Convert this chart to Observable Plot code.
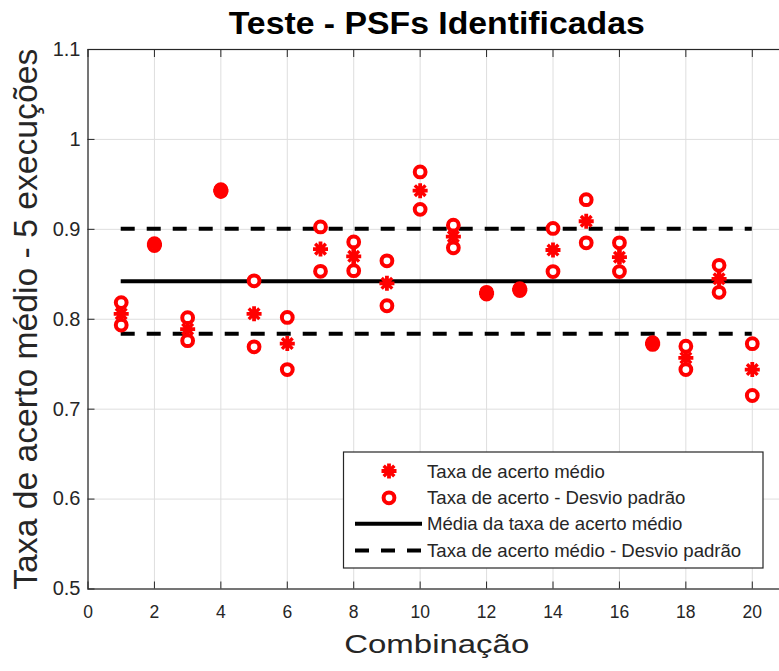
<!DOCTYPE html>
<html><head><meta charset="utf-8">
<script src="https://cdn.jsdelivr.net/npm/d3@7"></script>
<script src="https://cdn.jsdelivr.net/npm/@observablehq/plot@0.6"></script>
<style>
body{margin:0;background:#fff;}
#wrap{position:relative;width:779px;height:671px;overflow:hidden;font-family:"Liberation Sans",Arial,sans-serif;}
#wrap svg{position:absolute;left:0;top:0;}
</style></head><body><div id="wrap"></div>
<script>
const titulo = "Teste - PSFs Identificadas";
const rotuloX = "Combinação";
const rotuloY = "Taxa de acerto médio - 5 execuções";
const legendaTextos = ["Taxa de acerto médio", "Taxa de acerto - Desvio padrão", "Média da taxa de acerto médio", "Taxa de acerto médio - Desvio padrão"];

const combinacoes = [1, 2, 3, 4, 5, 6, 7, 8, 9, 10, 11, 12, 13, 14, 15, 16, 17, 18, 19, 20];
const media  = [0.806, 0.883, 0.789, 0.943, 0.806, 0.773, 0.878, 0.870, 0.840, 0.943, 0.892, 0.829, 0.833, 0.877, 0.909, 0.869, 0.773, 0.757, 0.845, 0.744];
const desvio = [0.0125, 0.001, 0.0128, 0.001, 0.0367, 0.029, 0.0247, 0.016, 0.025, 0.0208, 0.0126, 0.001, 0.001, 0.024, 0.024, 0.016, 0.001, 0.013, 0.015, 0.0288];
const erroMedio = [0, 0, 0, 0, 0, 0, 0, 0.009, 0, 0, 0.004, 0, 0, 0, 0, 0.008, 0, 0.004, 0.007, 0];
const mediaGeral = 0.8422;
const desvioGeral = 0.0584;

const xTicks = [0, 2, 4, 6, 8, 10, 12, 14, 16, 18, 20];
const yTicks = [0.5, 0.6, 0.7, 0.8, 0.9, 1.0, 1.1];
const xDominio = [0, 21];
const yDominio = [0.5, 1.1];

const linhas = combinacoes.map((c, i) => ({c, media: media[i], desvio: desvio[i], erro: erroMedio[i]}));
const circulos = linhas.flatMap(d => [{c: d.c, v: d.media + d.desvio}, {c: d.c, v: d.media - d.desvio}]);
const xMin = d3.min(combinacoes), xMax = d3.max(combinacoes);

const font = '"Liberation Sans", Arial, sans-serif';
const eixo = "#262626";
const rStar = 4.9;

const plot = Plot.plot({
  width: 779, height: 671,
  marginLeft: 87.5, marginRight: -6, marginTop: 49, marginBottom: 82.5,
  style: {fontFamily: font, background: "white", overflow: "visible"},
  x: {domain: xDominio, axis: null, label: null},
  y: {domain: yDominio, axis: null, label: null},
  marks: [
    Plot.gridX(xTicks, {stroke: "#dedede", strokeOpacity: 1, strokeWidth: 1}),
    Plot.gridY(yTicks, {stroke: "#dedede", strokeOpacity: 1, strokeWidth: 1}),
    Plot.frame({stroke: eixo, strokeWidth: 1.2}),
    Plot.axisX(xTicks, {anchor: "bottom", tickSize: 0, tickPadding: 17, fontSize: 17.5, color: eixo, label: null}),
    Plot.axisX(xTicks, {anchor: "bottom", tickSize: -7, tickFormat: () => "", color: eixo, label: null}),
    Plot.axisX(xTicks, {anchor: "top", tickSize: -7, tickFormat: () => "", color: eixo, label: null}),
    Plot.axisY(yTicks, {anchor: "left", tickSize: 0, tickPadding: 7.5, fontSize: 20, color: eixo, label: null, tickFormat: d => String(d)}),
    Plot.axisY(yTicks, {anchor: "left", tickSize: -7, tickFormat: () => "", color: eixo, label: null}),
    Plot.axisY(yTicks, {anchor: "right", tickSize: -7, tickFormat: () => "", color: eixo, label: null}),
    Plot.ruleY([mediaGeral + desvioGeral, mediaGeral - desvioGeral], {x1: xMin, x2: xMax, stroke: "black", strokeWidth: 4, strokeDasharray: "14,12"}),
    Plot.ruleY([mediaGeral], {x1: xMin, x2: xMax, stroke: "black", strokeWidth: 4}),
    Plot.dot(circulos, {x: "c", y: "v", r: 5.4, stroke: "red", strokeWidth: 4, fill: "white"}),
    Plot.ruleX(linhas.filter(d => d.erro > 0), {x: "c", y1: d => d.media - d.erro, y2: d => d.media + d.erro, stroke: "red", strokeWidth: 4.5}),
    Plot.dot(linhas, {x: "c", y: "media", r: 4.6, fill: "red"}),
    Plot.dot(linhas, {x: "c", y: "media", symbol: "plus", r: rStar, stroke: "red", strokeWidth: 3.8}),
    Plot.dot(linhas, {x: "c", y: "media", symbol: "times", r: rStar, stroke: "red", strokeWidth: 3.4}),
    Plot.text([titulo], {text: d => d, frameAnchor: "top", lineAnchor: "bottom", dy: -15.7, fontSize: 31.5, fontWeight: "bold", fill: "black"}),
    Plot.text([rotuloX], {text: d => d, frameAnchor: "bottom", lineAnchor: "bottom", dy: 63.5, fontSize: 26, fill: eixo}),
    Plot.text([rotuloY], {text: d => d, frameAnchor: "left", textAnchor: "middle", rotate: -90, dx: -61.5, fontSize: 33.5, fill: eixo})
  ]
});
const wrap = document.getElementById("wrap");
wrap.appendChild(plot);

// stretch labels to reference widths
d3.select(plot).selectAll("text").each(function() {
  const t = this.textContent;
  if (t === rotuloX) d3.select(this).attr("textLength", 185).attr("lengthAdjust", "spacingAndGlyphs");
  if (t === titulo) d3.select(this).attr("textLength", 416).attr("lengthAdjust", "spacingAndGlyphs");
  if (t === rotuloY) d3.select(this).attr("textLength", 541).attr("lengthAdjust", "spacingAndGlyphs");
});

// legend overlay
const leg = d3.select(wrap).append("svg").attr("width", 779).attr("height", 671).style("pointer-events", "none");
const L = {x: 343.5, y: 452, w: 419.5, h: 116};
leg.append("rect").attr("x", L.x).attr("y", L.y).attr("width", L.w).attr("height", L.h).attr("fill", "white").attr("stroke", eixo).attr("stroke-width", 1.2);
const mx = 389, tx = 427;
const rowsY = [471, 497.8, 523.8, 550.5];
const area = r => Math.PI * r * r;
const g0 = leg.append("g").attr("transform", `translate(${mx},${rowsY[0]})`);
g0.append("circle").attr("r", 4.6).attr("fill", "red");
g0.append("path").attr("d", d3.symbol(d3.symbolPlus, area(rStar))()).attr("stroke", "red").attr("stroke-width", 3.8).attr("fill", "none");
g0.append("path").attr("d", d3.symbol(d3.symbolTimes, area(rStar))()).attr("stroke", "red").attr("stroke-width", 3.4).attr("fill", "none");
leg.append("circle").attr("cx", mx).attr("cy", rowsY[1]).attr("r", 5.4).attr("fill", "white").attr("stroke", "red").attr("stroke-width", 4);
leg.append("line").attr("x1", 355).attr("x2", 422).attr("y1", rowsY[2]).attr("y2", rowsY[2]).attr("stroke", "black").attr("stroke-width", 4);
leg.append("line").attr("x1", 355).attr("x2", 422).attr("y1", rowsY[3]).attr("y2", rowsY[3]).attr("stroke", "black").attr("stroke-width", 4).attr("stroke-dasharray", "14,12");
legendaTextos.forEach((t, i) => {
  leg.append("text").attr("x", tx).attr("y", rowsY[i]).attr("dy", "0.355em")
    .attr("font-family", font).attr("font-size", 18.6).attr("fill", eixo).text(t);
});
</script></body></html>
